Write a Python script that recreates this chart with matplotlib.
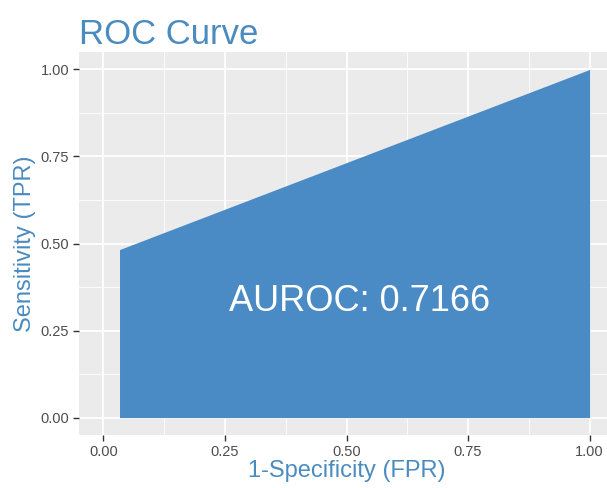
import matplotlib
matplotlib.use("Agg")
import matplotlib.pyplot as plt
from matplotlib.ticker import MultipleLocator

# ROC data
fpr = [0.0333, 1.0]
tpr = [0.4826, 1.0]
auroc = 0.7166
ticks = [0.0, 0.25, 0.5, 0.75, 1.0]
tick_labels = ["0.00", "0.25", "0.50", "0.75", "1.00"]

blue = "#4A8BC6"
label_blue = "#4A8BC0"

plt.rcParams['font.family'] = ['Liberation Sans', 'DejaVu Sans']

fig = plt.figure(figsize=(6.07, 4.88), dpi=100)
# panel runs slightly past the right edge like the original
ax = fig.add_axes([79 / 607, 1 - 435 / 488, (614 - 79) / 607, (435 - 52) / 488])
ax.set_facecolor("#EBEBEB")
for s in ax.spines.values():
    s.set_visible(False)

ax.set_xlim(-0.05, 1.05)
ax.set_ylim(-0.05, 1.05)
ax.set_xticks(ticks)
ax.set_xticklabels(tick_labels)
ax.set_yticks(ticks)
ax.set_yticklabels(tick_labels)
ax.xaxis.set_minor_locator(MultipleLocator(0.125))
ax.yaxis.set_minor_locator(MultipleLocator(0.125))
ax.grid(which="major", color="white", linewidth=1.3)
ax.grid(which="minor", color="white", linewidth=0.6)
ax.tick_params(which="minor", length=0)
ax.tick_params(which="major", length=4, width=1, color="#333333",
               labelsize=10.5, labelcolor="#4D4D4D", pad=3)
ax.set_axisbelow(True)

ax.fill_between(fpr, 0, tpr, color=blue, linewidth=0, zorder=2)

ax.text((fpr[0] + fpr[1]) / 2 + 0.01, 0.333, "AUROC: %.4f" % auroc,
        color="white", fontsize=26, ha="center", va="center", zorder=3)

ax.set_xlabel("1-Specificity (FPR)", color=label_blue, fontsize=17, labelpad=1)
ax.set_ylabel("Sensitivity (TPR)", color=label_blue, fontsize=17, labelpad=3)
fig.text(79 / 607, 1 - 44 / 488, "ROC Curve", color=label_blue, fontsize=25,
         ha="left", va="baseline")

fig.savefig("out.png", dpi=100)
